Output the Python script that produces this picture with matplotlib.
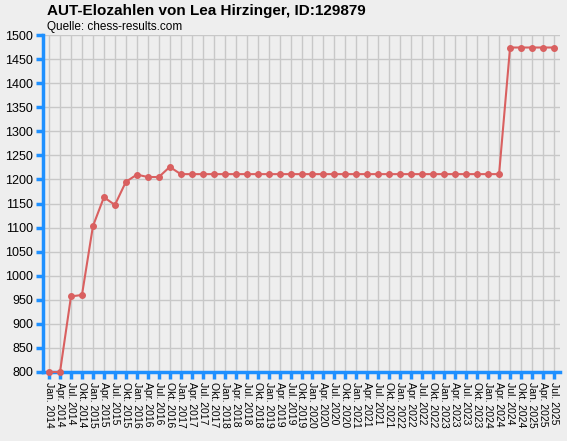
import matplotlib.pyplot as plt

months = ["Jan.", "Apr.", "Jul.", "Okt."]
labels = [f"{m} {y}" for y in range(2014, 2026) for m in months][:47]
elo = [800, 800, 957, 960, 1103, 1163, 1147, 1195, 1210, 1205, 1205, 1226,
       1211, 1211, 1211, 1211, 1211, 1211, 1211, 1211, 1211, 1211, 1211, 1211,
       1211, 1211, 1211, 1211, 1211, 1211, 1211, 1211, 1211, 1211, 1211, 1211,
       1211, 1211, 1211, 1211, 1211, 1211, 1474, 1474, 1474, 1474, 1474]

bg = "#eeeeee"
blue = "#1e90ff"
fig = plt.figure(figsize=(5.67, 4.41), dpi=100, facecolor=bg)
ax = fig.add_axes([43 / 567, 1 - 372 / 441, 517 / 567, 337 / 441], facecolor=bg)
x = range(len(elo))
ax.plot(x, elo, color="#d96060", lw=1.5, marker="o", ms=4, zorder=3, clip_on=False)
ax.set_xlim(-0.55, len(elo) - 0.45)
ax.set_ylim(800, 1500)
ax.set_yticks(range(800, 1501, 50))
ax.set_xticks(list(x))
ax.set_xticklabels(labels, rotation=270, fontsize=7.5, family="Liberation Sans")
for t in ax.get_yticklabels():
    t.set_fontsize(9)
    t.set_family("Liberation Sans")
ax.grid(True, color="#c8c8c8", lw=1)
ax.set_axisbelow(True)
for s in ["top", "right"]:
    ax.spines[s].set_visible(False)
for s in ["left", "bottom"]:
    ax.spines[s].set_color(blue)
    ax.spines[s].set_linewidth(2.5)
ax.tick_params(axis="both", color=blue, width=2.5, length=5, pad=2, direction="out")
fig.text(47 / 567, 1 - 11 / 441, "AUT-Elozahlen von Lea Hirzinger, ID:129879",
         fontsize=11, fontweight="bold", family="Liberation Sans", va="center")
fig.text(47 / 567, 1 - 27 / 441, "Quelle: chess-results.com",
         fontsize=8.5, family="Liberation Sans", va="center")
fig.savefig("out.png", facecolor=bg)
